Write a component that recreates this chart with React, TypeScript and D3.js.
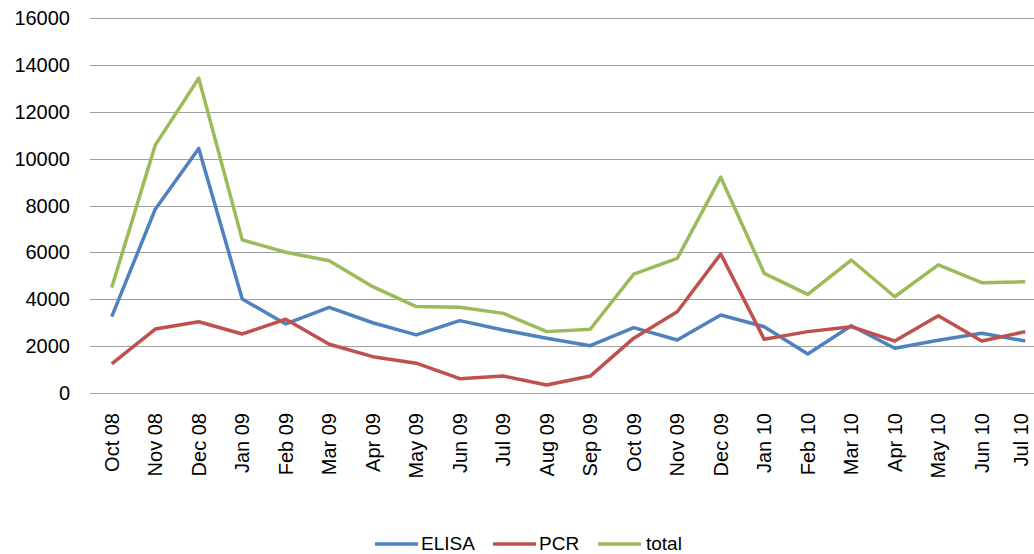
import React from "react";
import * as d3 from "d3";

const categories = ["Oct 08","Nov 08","Dec 08","Jan 09","Feb 09","Mar 09","Apr 09","May 09","Jun 09","Jul 09","Aug 09","Sep 09","Oct 09","Nov 09","Dec 09","Jan 10","Feb 10","Mar 10","Apr 10","May 10","Jun 10","Jul 10"];
const elisa = [3250,7840,10440,4000,2940,3650,2990,2470,3080,2680,2330,2010,2780,2250,3320,2820,1650,2860,1900,2240,2540,2210];
const pcr = [1230,2720,3030,2510,3140,2070,1540,1260,600,710,330,710,2330,3460,5930,2280,2610,2820,2210,3290,2210,2610];
const total = [4500,10580,13440,6530,6000,5640,4530,3680,3650,3390,2610,2710,5070,5740,9210,5100,4200,5670,4100,5460,4700,4740];
const yTicks = [0,2000,4000,6000,8000,10000,12000,14000,16000];

const seriesList = [
  { name: "ELISA", values: elisa, color: "#4F81BD" },
  { name: "PCR", values: pcr, color: "#C0504D" },
  { name: "total", values: total, color: "#9BBB59" },
];

const W = 1034, H = 554;
const plotLeft = 90, step = 43.5;
const FONT = "'Liberation Sans', Arial, sans-serif";

export default function App() {
  const x = d3.scaleBand<string>().domain(categories).range([plotLeft, plotLeft + step * categories.length]).padding(0);
  const y = d3.scaleLinear().domain([0, 16000]).range([392.7, 18.3]);
  const cx = (c: string) => (x(c) as number) + x.bandwidth() / 2;
  const line = d3.line<number>().x((_, i) => cx(categories[i])).y((v) => y(v));

  const legendItems = [
    { lx: 375, tx: 421 },
    { lx: 493, tx: 539 },
    { lx: 598, tx: 646 },
  ];

  return (
    <svg width={W} height={H} style={{ position: "absolute", left: 0, top: 0, background: "#fff" }} fontFamily={FONT}>
      {yTicks.map((t) => (
        <g key={t}>
          <line x1={plotLeft} x2={W} y1={Math.round(y(t)) + 0.5} y2={Math.round(y(t)) + 0.5} stroke={t === 0 ? "#A6A6A6" : "#A0A0A0"} strokeWidth={1} />
          <text x={70} y={y(t)} dy="0.35em" textAnchor="end" fontSize={20} fill="#000">{t}</text>
        </g>
      ))}
      {categories.map((c) => (
        <text key={c} transform={`translate(${Math.min(cx(c) + 7, W - 6)},${413}) rotate(-90)`} textAnchor="end" fontSize={20} fill="#000">{c}</text>
      ))}
      {seriesList.map((s) => (
        <path key={s.name} d={line(s.values) as string} fill="none" stroke={s.color} strokeWidth={3.5} strokeLinejoin="round" strokeLinecap="butt" />
      ))}
      {seriesList.map((s, i) => (
        <g key={s.name}>
          <line x1={legendItems[i].lx} x2={legendItems[i].lx + 43} y1={544} y2={544} stroke={s.color} strokeWidth={3.5} />
          <text x={legendItems[i].tx} y={550} fontSize={19} fill="#000">{s.name}</text>
        </g>
      ))}
    </svg>
  );
}
